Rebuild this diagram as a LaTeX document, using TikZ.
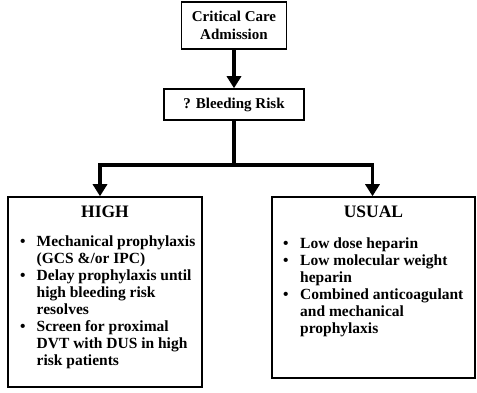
\documentclass[tikz,border=0pt]{standalone}
\usepackage{fontspec}
\setmainfont{Liberation Serif}
\usetikzlibrary{arrows.meta}
\usetikzlibrary{calc}

\tikzset{box/.style={draw, line width=1.5pt, align=center, inner sep=0, font=\bfseries\fontsize{15}{18}\selectfont}}
\tikzset{bigbox/.style={draw, line width=1.5pt, inner sep=0}}
\tikzset{boxtitle/.style={inner sep=0, font=\bfseries\fontsize{17.5}{19}\selectfont}}
\tikzset{items/.style={anchor=north west, inner sep=0, font=\bfseries\fontsize{15.5}{17}\selectfont}}
\tikzset{flow/.style={line width=3.2pt, -{Triangle[width=14pt,length=12pt]}}}

\begin{document}
\begin{tikzpicture}[x=1pt, y=-1pt]
\useasboundingbox (0,0) rectangle (477,393);

\node[box, minimum width=105, minimum height=47] (admit) at (234,25.5) {Critical Care\\Admission};
\node[box, minimum width=140, minimum height=31] (bleed) at (234,104.5) {? Bleeding Risk};
\coordinate (split) at (234,165);

% the two outcome boxes
\node[bigbox, minimum width=194, minimum height=190] (high) at (105,292) {};
\node[bigbox, minimum width=203, minimum height=181] (usual) at (373.5,287.5) {};
\node[boxtitle] (hightitle) at (105,212) {HIGH};
\node[boxtitle] (usualtitle) at (373.5,212) {USUAL};

\node[items] (highlist) at (20,234.5) {%
\begin{tabular}{@{}p{16.5pt}@{}l@{}}
\textbullet & Mechanical prophylaxis\\
 & (GCS \&/or IPC)\\
\textbullet & Delay prophylaxis until\\
 & high bleeding risk\\
 & resolves\\
\textbullet & Screen for proximal\\
 & DVT with DUS in high\\
 & risk patients
\end{tabular}};
\node[items] (usuallist) at (283,236.5) {%
\begin{tabular}{@{}p{17pt}@{}l@{}}
\textbullet & Low dose heparin\\
\textbullet & Low molecular weight\\
 & heparin\\
\textbullet & Combined anticoagulant\\
 & and mechanical\\
 & prophylaxis
\end{tabular}};

\draw[flow] (admit) -- (bleed);
\draw[line width=3.2pt] (bleed) -- (split);
\draw[flow] (split) -| ([xshift=-5pt]high.north);
\draw[flow] (split) -| ([xshift=-1pt]usual.north);
\end{tikzpicture}
\end{document}
